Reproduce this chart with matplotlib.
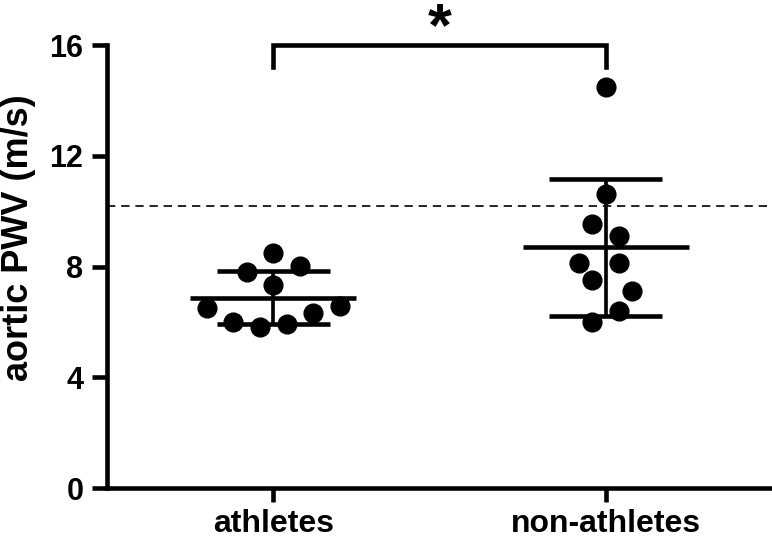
import numpy as np
import matplotlib
matplotlib.use("Agg")
import matplotlib.pyplot as plt

plt.rcParams['font.family'] = ['Liberation Sans', 'DejaVu Sans']
plt.rcParams['font.weight'] = 'bold'

# data
groups = ['athletes', 'non-athletes']
athletes = [8.49, 7.80, 8.02, 7.33, 6.50, 6.57, 6.32, 6.00, 5.81, 5.92]
non_athletes = [14.48, 10.62, 9.53, 9.10, 8.12, 8.12, 7.51, 7.11, 6.39, 6.00]
# horizontal spread of the dots (swarm layout), in category units
jitter_ath = [0.0, -0.08, 0.08, 0.0, -0.2, 0.2, 0.12, -0.12, -0.04, 0.04]
jitter_non = [0.0, 0.0, -0.04, 0.04, -0.08, 0.04, -0.04, 0.08, 0.04, -0.04]
cutoff = 10.2
yticks = [0, 4, 8, 12, 16]

lw = 3.3

fig = plt.figure(figsize=(7.72, 5.38), dpi=100)
ax = fig.add_axes([0.1386, 0.0929, 0.8614, 0.8234])

for i, (vals, jit) in enumerate([(athletes, jitter_ath), (non_athletes, jitter_non)]):
    vals = np.array(vals)
    xs = i + np.array(jit)
    ax.plot(xs, vals, 'o', color='black', markersize=13.5, zorder=3, clip_on=False)
    m = vals.mean()
    sd = vals.std(ddof=1)
    # mean line, SD whiskers and caps
    ax.hlines(m, i - 0.25, i + 0.25, color='black', lw=lw, zorder=2)
    ax.vlines(i, m - sd, m + sd, color='black', lw=lw * 0.8, zorder=2)
    ax.hlines([m - sd, m + sd], i - 0.17, i + 0.17, color='black', lw=lw, zorder=2)

# reference line
ax.axhline(cutoff, color='black', lw=1.2, ls=(0, (5, 3.5)), zorder=1)

# significance bracket
ax.plot([0, 0, 1, 1], [15.2, 16, 16, 15.2], color='black', lw=lw,
        clip_on=False, solid_joinstyle='miter', zorder=4)
ax.text(0.5, 15.98, '*', ha='center', va='baseline', fontsize=44,
        fontweight='bold', clip_on=False)

ax.set_xlim(-0.5, 1.5)
ax.set_ylim(0, 16)
ax.set_xticks([0, 1])
ax.set_xticklabels(groups)
ax.set_yticks(yticks)
ax.set_ylabel('aortic PWV (m/s)', fontsize=26, fontweight='bold')
ax.yaxis.set_label_coords(-0.107, 0.565)

ax.spines['top'].set_visible(False)
ax.spines['right'].set_visible(False)
ax.spines['left'].set_linewidth(lw)
ax.spines['bottom'].set_linewidth(lw)
ax.tick_params(axis='y', width=lw, length=11, labelsize=22, pad=6)
ax.tick_params(axis='x', width=lw, length=10, labelsize=23, pad=5)

fig.savefig('out.png', dpi=100)
